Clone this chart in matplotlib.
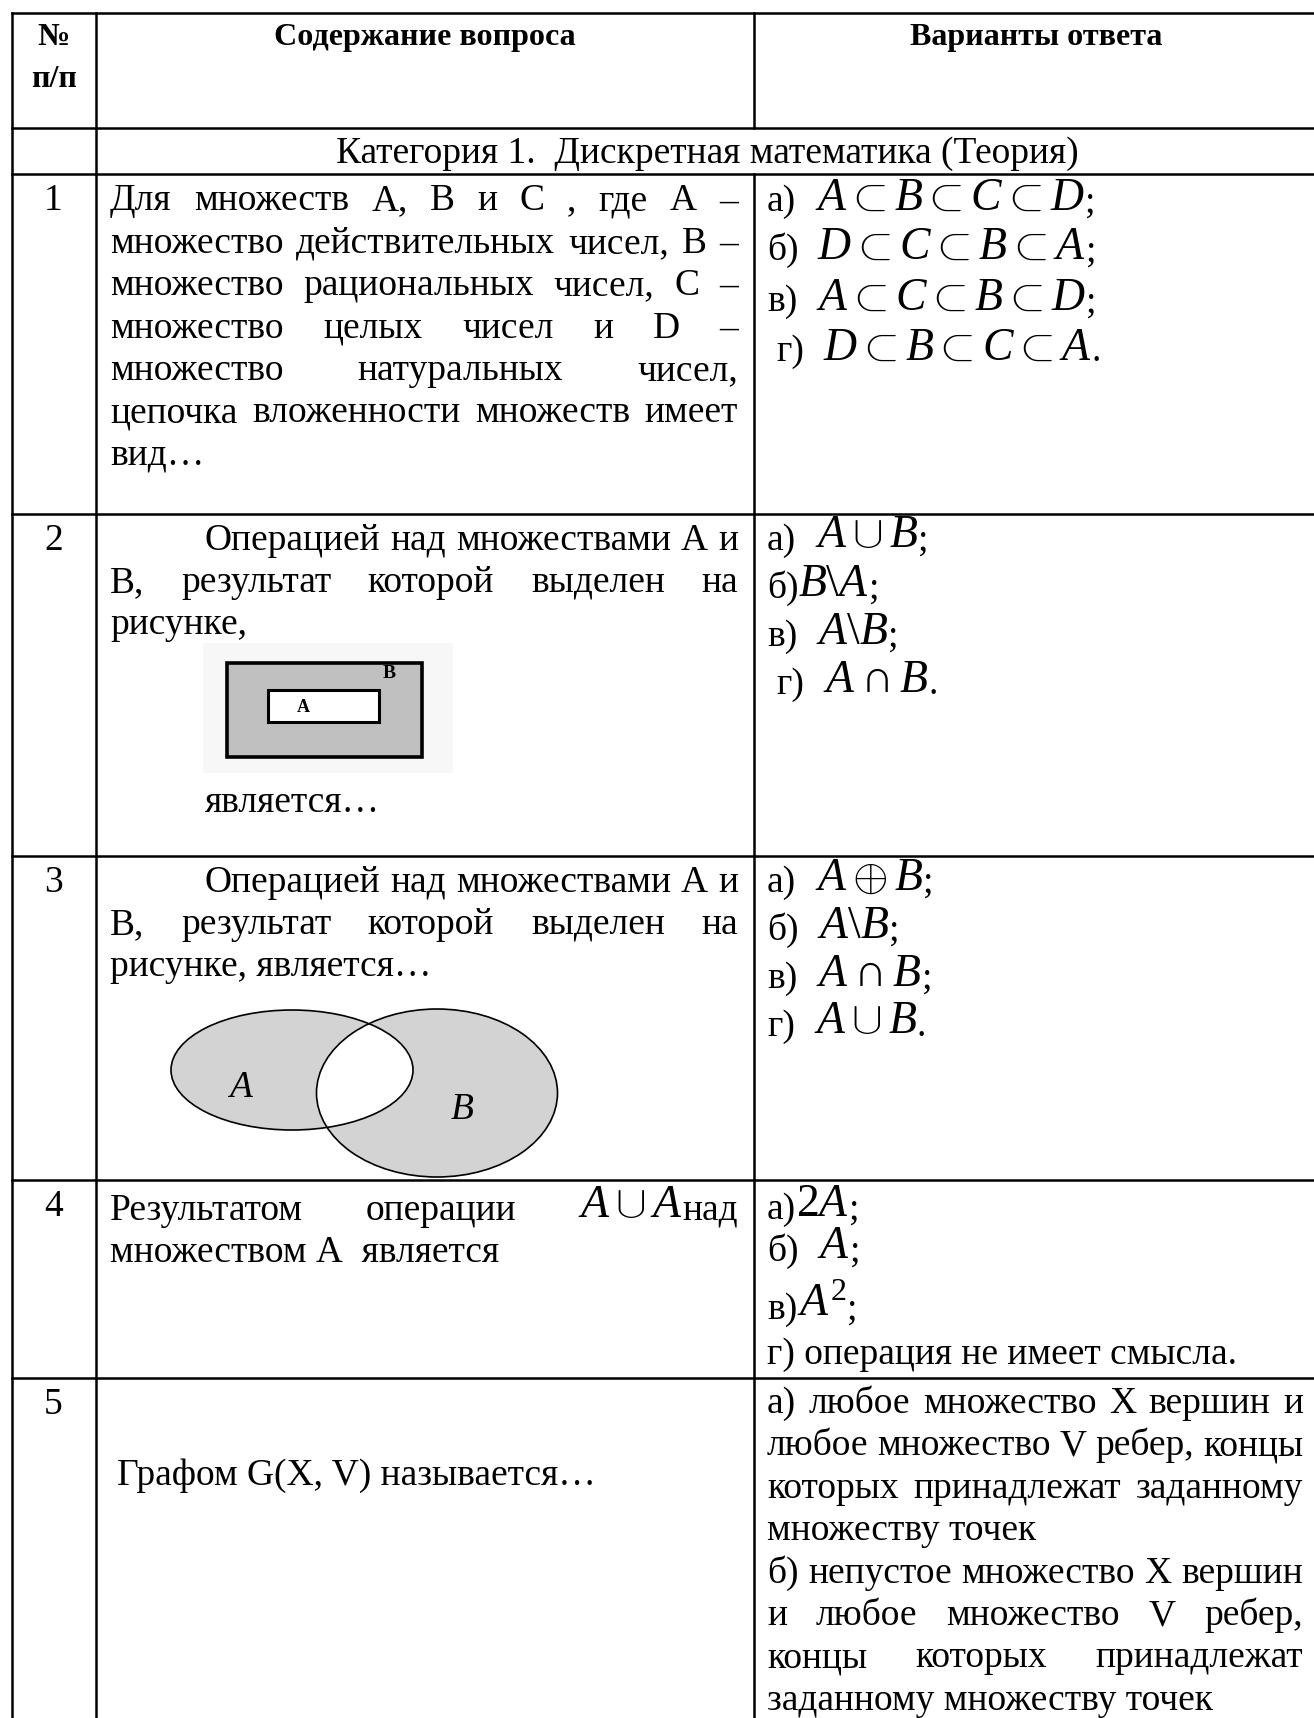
import re
import matplotlib
matplotlib.use("Agg")
import matplotlib.pyplot as plt
from matplotlib.patches import Rectangle, Ellipse

# Fuentes: Liberation Serif tiene las mismas metricas que Times New Roman
plt.rcParams['font.family'] = ['Liberation Serif', 'DejaVu Serif']
plt.rcParams['mathtext.fontset'] = 'custom'
plt.rcParams['mathtext.rm'] = 'Liberation Serif'
plt.rcParams['mathtext.it'] = 'Liberation Serif:italic'
plt.rcParams['mathtext.bf'] = 'Liberation Serif:bold'

# ---------------- datos de la tabla ----------------
HEADER_NUM = ["№", "п/п"]
HEADER_COLS = ["Содержание вопроса", "Варианты ответа"]
CATEGORY = "Категория 1.  Дискретная математика (Теория)"
ROW_NUMBERS = ["1", "2", "3", "4", "5"]

# (texto, modo)  j = justificado, ji = justificado con sangria, l = izquierda
Q1 = [("Для множеств А, В  и С , где  А –", "j"),
      ("множество действительных чисел, В –", "j"),
      ("множество рациональных чисел, С –", "j"),
      ("множество целых чисел и D –", "j"),
      ("множество натуральных чисел,", "j"),
      ("цепочка вложенности множеств имеет", "j"),
      ("вид…", "l")]
Q2 = [("Операцией над множествами А и", "ji"),
      ("В, результат которой выделен на", "j"),
      ("рисунке,", "l")]
Q2_TAIL = "является…"
Q3 = [("Операцией над множествами А и", "ji"),
      ("В, результат которой выделен на", "j"),
      ("рисунке, является…", "l")]
Q4 = [(r"Результатом операции $A\cup A$над", "j"),
      ("множеством А  является", "l")]
Q5 = "Графом G(X, V) называется…"

A1 = [r"а)  $A\subset B\subset C\subset D$;",
      r"б)  $D\subset C\subset B\subset A$;",
      r"в)  $A\subset C\subset B\subset D$;",
      r" г)  $D\subset B\subset C\subset A$."]
A2 = [r"а)  $A\cup B$;",
      r"б)$B\backslash A$;",
      r"в)  $A\backslash B$;",
      r" г)  $A\cap B$."]
A3 = [r"а)  $A\oplus B$;",
      r"б)  $A\backslash B$;",
      r"в)  $A\cap B$;",
      r"г)  $A\cup B$."]
A4 = [r"а)$2A$;",
      r"б)  $A$;",
      r"в)$A^2$;",
      "г) операция не имеет смысла."]
A5 = [("а) любое множество X вершин и", "j"),
      ("любое множество V ребер, концы", "j"),
      ("которых принадлежат заданному", "j"),
      ("множеству точек", "l"),
      ("б) непустое множество X вершин", "j"),
      ("и любое множество V ребер,", "j"),
      ("концы которых принадлежат", "j"),
      ("заданному множеству точек", "l")]

# ---------------- geometria (pixeles) ----------------
W, H = 1314, 1718
COL_X = [11.5, 95.7, 754.0, 1318.0]
ROW_Y = [13.3, 127.7, 174.3, 513.5, 855.5, 1179.5, 1378.0]
LW = 1.8
LEAD = 42.4
Q_X0, Q_X1 = 110, 738
A_X0, A_X1 = 767, 1303
INDENT = 95

fig = plt.figure(figsize=(W / 100, H / 100), dpi=100)
ax = fig.add_axes([0, 0, 1, 1])
ax.set_xlim(0, W)
ax.set_ylim(H, 0)
ax.axis('off')
renderer = fig.canvas.get_renderer()


def text_w(t):
    return t.get_window_extent(renderer).width


# calibramos el tamaño de letra con el ancho de la linea de categoria
t = ax.text(0, 0, CATEGORY, fontsize=20)
BASE = 20 * 746 / text_w(t)
t.remove()
HEAD = BASE * 0.855   # el encabezado va en letra mas chica
FS = BASE * 1.22
SPACE = 0.25 * BASE * 100 / 72
MATH_DY = -2


def draw_run(x, y, s):
    # texto con formulas intercaladas, de izquierda a derecha
    arts = []
    for part in re.split(r"(\$[^$]*\$)", s):
        if not part:
            continue
        if part.startswith("$"):
            t = ax.text(x, y + MATH_DY, part, fontsize=FS, va='baseline')
            arts.append(t)
            x += text_w(t)
            continue
        core = part.strip(" ")
        if not core:
            x += len(part) * SPACE
            continue
        x += (len(part) - len(part.lstrip(" "))) * SPACE
        t = ax.text(x, y, core, fontsize=BASE, va='baseline')
        arts.append(t)
        x += text_w(t)
        x += (len(part) - len(part.rstrip(" "))) * SPACE
    return arts, x


def draw_line(x0, x1, y, s, mode):
    if mode in ("ji", "li"):
        x0 += INDENT
    if mode.startswith("l"):
        draw_run(x0, y, s)
        return
    words = re.findall(r"(?:\$[^$]*\$|\S)+", s)
    pieces = [draw_run(0, y, w) for w in words]
    total = sum(p[1] for p in pieces)
    gap = (x1 - x0 - total) / max(len(words) - 1, 1)
    x = x0
    for arts, w in pieces:
        for a in arts:
            a.set_x(a.get_position()[0] + x)
        x += w + gap


# ---------------- lineas de la tabla ----------------
for y in ROW_Y:
    ax.plot([COL_X[0], W], [y, y], color='black', lw=LW, solid_capstyle='projecting')
ax.plot([COL_X[0]] * 2, [ROW_Y[0], H], color='black', lw=LW, solid_capstyle='projecting')
ax.plot([COL_X[1]] * 2, [ROW_Y[0], H], color='black', lw=LW, solid_capstyle='projecting')
ax.plot([COL_X[2]] * 2, [ROW_Y[0], ROW_Y[1]], color='black', lw=LW, solid_capstyle='projecting')
ax.plot([COL_X[2]] * 2, [ROW_Y[2], H], color='black', lw=LW, solid_capstyle='projecting')

# ---------------- encabezado ----------------
num_cx = (COL_X[0] + COL_X[1]) / 2
ax.text(num_cx, 45, HEADER_NUM[0], fontsize=HEAD, fontweight='bold', ha='center', va='baseline')
ax.text(num_cx, 87, HEADER_NUM[1], fontsize=HEAD, fontweight='bold', ha='center', va='baseline')
ax.text((COL_X[1] + COL_X[2]) / 2, 45, HEADER_COLS[0], fontsize=HEAD, fontweight='bold',
        ha='center', va='baseline')
ax.text((COL_X[2] + COL_X[3]) / 2, 45, HEADER_COLS[1], fontsize=HEAD, fontweight='bold',
        ha='center', va='baseline')
ax.text((COL_X[1] + COL_X[3]) / 2, 163, CATEGORY, fontsize=BASE, ha='center', va='baseline')

# numeros de fila
row_tops = ROW_Y[2:]
for i, n in enumerate(ROW_NUMBERS):
    ax.text(num_cx, row_tops[i] + 36, n, fontsize=BASE, ha='center', va='baseline')

# ---------------- preguntas ----------------
for k, (s, m) in enumerate(Q1):
    draw_line(Q_X0, Q_X1, row_tops[0] + 36 + k * LEAD, s, m)
for k, (s, m) in enumerate(Q2):
    draw_line(Q_X0, Q_X1, row_tops[1] + 36 + k * LEAD, s, m)
draw_line(Q_X0, Q_X1, row_tops[1] + 298, Q2_TAIL, "li")
for k, (s, m) in enumerate(Q3):
    draw_line(Q_X0, Q_X1, row_tops[2] + 36 + k * LEAD, s, m)
for k, (s, m) in enumerate(Q4):
    draw_line(Q_X0, Q_X1, row_tops[3] + 40 + k * LEAD, s, m)
ax.text(117, row_tops[4] + 107, Q5, fontsize=BASE, va='baseline')

# ---------------- respuestas ----------------
offs = [[37, 86, 137, 187], [36, 84, 132, 180], [36, 84, 132, 180], [39, 81, 139, 184]]
for r, answers in enumerate([A1, A2, A3, A4]):
    for k, s in enumerate(answers):
        draw_run(A_X0, row_tops[r] + offs[r][k], s)
for k, (s, m) in enumerate(A5):
    draw_line(A_X0, A_X1, row_tops[4] + 35 + k * LEAD, s, m)

# ---------------- dibujo: rectangulos A dentro de B ----------------
ax.add_patch(Rectangle((203, 643), 250, 130, fc='#f7f7f7', ec='none'))
ax.add_patch(Rectangle((227, 663), 195, 94, fc='#c0c0c0', ec='black', lw=2.6))
ax.add_patch(Rectangle((268, 690), 111, 32, fc='white', ec='black', lw=2.2))
ax.text(389, 674, "B", fontsize=14, fontweight='bold', ha='center', va='center')
ax.text(303, 707, "A", fontsize=13, fontweight='bold', ha='center', va='center')

# ---------------- dibujo: diferencia simetrica ----------------
GREY = '#d3d3d3'
ell_a = Ellipse((292, 1070), 242, 120, fc=GREY, ec='none')
ell_b = Ellipse((437, 1093), 241, 168, fc=GREY, ec='none')
ax.add_patch(ell_a)
ax.add_patch(ell_b)
inter = Ellipse((292, 1070), 242, 120, fc='white', ec='none')
ax.add_patch(inter)
inter.set_clip_path(ell_b)
ax.add_patch(Ellipse((292, 1070), 242, 120, fill=False, ec='black', lw=1.2))
ax.add_patch(Ellipse((437, 1093), 241, 168, fill=False, ec='black', lw=1.2))
ax.text(240, 1088, "A", fontsize=BASE, style='italic', ha='center', va='center')
ax.text(462, 1110, "B", fontsize=BASE, style='italic', ha='center', va='center')

fig.savefig("out.png", dpi=100)
